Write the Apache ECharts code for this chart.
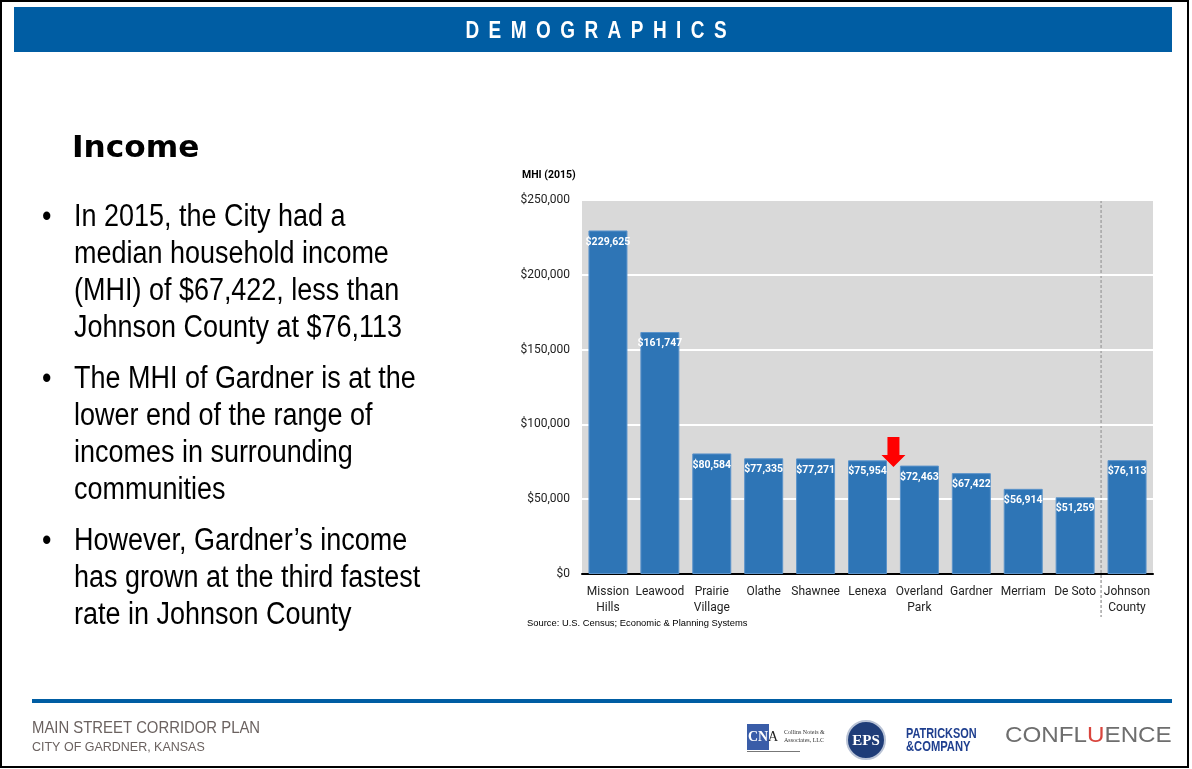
<!DOCTYPE html>
<html>
<head>
<meta charset="utf-8">
<title>Demographics - Income</title>
<script src="https://cdn.jsdelivr.net/npm/echarts@6/dist/echarts.min.js"></script>
<style>
  html, body { margin: 0; padding: 0; background: #ffffff; }
  #chart { width: 1192px; height: 769px; }
</style>
</head>
<body>
<div id="chart"></div>
<script>
// Median household income, 2015
const categories = ['Mission\nHills', 'Leawood', 'Prairie\nVillage', 'Olathe', 'Shawnee', 'Lenexa',
  'Overland\nPark', 'Gardner', 'Merriam', 'De Soto', 'Johnson\nCounty'];
const incomeValues = [229625, 161747, 80584, 77335, 77271, 75954, 72463, 67422, 56914, 51259, 76113];
const yTicks = { min: 0, max: 250000, interval: 50000 };
const bulletLines = [
  ['In 2015, the City had a', 'median household income', '(MHI) of $67,422, less than', 'Johnson County at $76,113'],
  ['The MHI of Gardner is at the', 'lower end of the range of', 'incomes in surrounding', 'communities'],
  ['However, Gardner\u2019s income', 'has grown at the third fastest', 'rate in Johnson County']
];

const money = v => '$' + Number(v).toLocaleString('en-US');
const sans = '"Liberation Sans", Arial, sans-serif';

// Text placed by its baseline; condensed horizontally with scaleX
function label(text, x, baseline, size, opts) {
  opts = opts || {};
  const cap = opts.capRatio || 0.36;
  return {
    type: 'text', x: x, y: baseline - cap * size,
    scaleX: opts.scaleX || 1, scaleY: 1,
    silent: true,
    style: {
      text: text, x: 0, y: 0,
      font: (opts.weight || 'normal') + ' ' + size + 'px ' + (opts.family || sans),
      fill: opts.fill || '#000',
      textAlign: opts.align || 'left', textVerticalAlign: 'middle'
    }
  };
}

const chart = echarts.init(document.getElementById('chart'));

// Bullet list on the left of the slide
const bulletGraphics = [];
let baseline = 228.5;
bulletLines.forEach(lines => {
  bulletGraphics.push(label('\u2022', 42, baseline, 31, { scaleX: 0.87 }));
  lines.forEach(line => {
    bulletGraphics.push(label(line, 74, baseline, 31, { scaleX: 0.87 }));
    baseline += 37;
  });
  baseline += 14;
});

const option = {
  animation: false,
  textStyle: { fontFamily: 'Roboto, sans-serif' },
  grid: {
    left: 582, right: 39, top: 200, bottom: 195,
    show: true, backgroundColor: '#D9D9D9', borderWidth: 0
  },
  xAxis: {
    type: 'category',
    data: categories,
    axisTick: { show: false },
    axisLine: { lineStyle: { color: '#000', width: 2 } },
    axisLabel: {
      color: '#222', fontSize: 12, lineHeight: 16, margin: 10, interval: 0,
      fontFamily: 'Roboto, sans-serif'
    }
  },
  yAxis: {
    type: 'value',
    min: yTicks.min, max: yTicks.max, interval: yTicks.interval,
    axisLine: { show: false },
    axisTick: { show: false },
    splitLine: { lineStyle: { color: '#ffffff', width: 2 } },
    axisLabel: { formatter: money, color: '#222', fontSize: 12, margin: 12 }
  },
  series: [{
    type: 'bar',
    data: incomeValues,
    barWidth: 39,
    itemStyle: { color: '#2E75B6', borderColor: '#5B93CA', borderWidth: 1 },
    label: {
      show: true, position: 'insideTop', distance: 6,
      formatter: p => money(p.value),
      color: '#ffffff', fontWeight: 'bold', fontSize: 10.5,
      fontFamily: 'Roboto, sans-serif'
    }
  }],
  graphic: [
    // page frame
    { type: 'rect', shape: { x: 1, y: 1, width: 1187, height: 766 },
      style: { fill: 'none', stroke: '#000', lineWidth: 2 }, silent: true },
    // header band
    { type: 'rect', shape: { x: 14, y: 7, width: 1158, height: 45 }, style: { fill: '#005DA3' } },
    label('D\u2002E\u2002M\u2002O\u2002G\u2002R\u2002A\u2002P\u2002H\u2002I\u2002C\u2002S', 596, 40, 24,
      { weight: 'bold', fill: '#fff', align: 'center', scaleX: 0.79 }),
    // section title
    label('Income', 72, 160, 30, { weight: 'bold', family: '"DejaVu Sans", sans-serif', capRatio: 0.37, scaleX: 1.04 }),
    ...bulletGraphics,
    // chart annotations
    { type: 'text', left: 522, top: 170,
      style: { text: 'MHI (2015)', font: 'bold 10.5px Roboto, sans-serif', fill: '#000' } },
    { type: 'text', left: 527, top: 619,
      style: { text: 'Source: U.S. Census; Economic & Planning Systems', font: '9.4px ' + sans, fill: '#000' } },
    // footer
    { type: 'rect', shape: { x: 32, y: 699, width: 1140, height: 4 }, style: { fill: '#005DA3' } },
    label('MAIN STREET CORRIDOR PLAN', 32, 734, 17, { fill: '#6B6260', scaleX: 0.875 }),
    label('CITY OF GARDNER, KANSAS', 32, 752, 13.5, { fill: '#6B6260', scaleX: 0.925 }),
    // partner marks
    { type: 'rect', shape: { x: 747, y: 724, width: 22, height: 26 }, style: { fill: '#3A5DA8' } },
    { type: 'text', left: 748, top: 730,
      style: { text: 'CN', font: 'bold 14px "Liberation Serif", serif', fill: '#fff' } },
    { type: 'text', left: 768, top: 730,
      style: { text: 'A', font: '14px "Liberation Serif", serif', fill: '#222' } },
    { type: 'text', left: 784, top: 728,
      style: { text: 'Collins Noteis &\nAssociates, LLC', font: '6px "Liberation Serif", serif', fill: '#333', lineHeight: 8, align: 'right' } },
    { type: 'rect', shape: { x: 747, y: 751, width: 53, height: 1 }, style: { fill: '#777' } },
    { type: 'circle', shape: { cx: 866, cy: 740, r: 19 }, style: { fill: '#1F3D78', stroke: '#B9C3D6', lineWidth: 2 } },
    { type: 'text', x: 866, y: 741,
      style: { text: 'EPS', font: 'bold 15px "Liberation Serif", serif', fill: '#fff', textAlign: 'center', textVerticalAlign: 'middle' } },
    label('PATRICKSON', 906, 739, 14, { weight: 'bold', fill: '#1F3F8F', scaleX: 0.78 }),
    label('&COMPANY', 906, 752, 14, { weight: 'bold', fill: '#1F3F8F', scaleX: 0.8 }),
    {
      type: 'text', x: 1005, y: 736, scaleX: 1.1,
      style: {
        x: 0, y: 0, textVerticalAlign: 'middle',
        text: '{g|CONFL}{r|U}{g|ENCE}',
        rich: {
          g: { font: '22px "Liberation Sans", sans-serif', fill: '#6E6E6E', color: '#6E6E6E' },
          r: { font: '22px "Liberation Sans", sans-serif', fill: '#D9453D', color: '#D9453D' }
        }
      }
    }
  ]
};
chart.setOption(option);

// Separator between the cities and the county total, and the arrow pointing at Overland Park
const leftPx = chart.convertToPixel({ xAxisIndex: 0 }, categories[9]);
const rightPx = chart.convertToPixel({ xAxisIndex: 0 }, categories[10]);
const sepX = (leftPx + rightPx) / 2;
const topY = chart.convertToPixel({ yAxisIndex: 0 }, yTicks.max);
const lenX = chart.convertToPixel({ xAxisIndex: 0 }, categories[5]);
const opX = chart.convertToPixel({ xAxisIndex: 0 }, categories[6]);
const arrowX = (lenX + opX) / 2;
const tipY = chart.convertToPixel({ yAxisIndex: 0 }, 71500);
const tailY = chart.convertToPixel({ yAxisIndex: 0 }, 91500);
const headY = tipY - 12;

chart.setOption({
  graphic: option.graphic.concat([
    { type: 'line', shape: { x1: sepX, y1: topY, x2: sepX, y2: 617 },
      style: { stroke: '#A6A6A6', lineWidth: 1.5, lineDash: [3, 2] } },
    { type: 'polygon',
      shape: { points: [
        [arrowX - 6, tailY], [arrowX + 6, tailY], [arrowX + 6, headY], [arrowX + 12, headY],
        [arrowX, tipY], [arrowX - 12, headY], [arrowX - 6, headY]
      ] },
      style: { fill: '#FF0000' } }
  ])
});
</script>
</body>
</html>
